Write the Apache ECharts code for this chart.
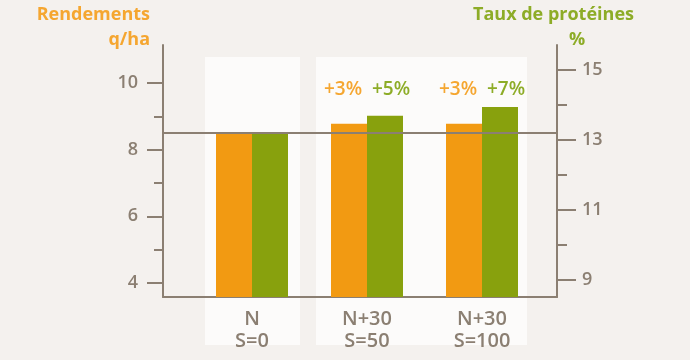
<!DOCTYPE html>
<html><head><meta charset="utf-8">
<script src="https://cdn.jsdelivr.net/npm/echarts@6/dist/echarts.min.js"></script>
<style>html,body{margin:0;padding:0;background:#f4f1ee}#c{width:690px;height:360px}</style>
</head><body><div id="c"></div>
<script>
const categories = ['N\nS=0', 'N+30\nS=50', 'N+30\nS=100'];
const yieldValues = [8.5, 8.78, 8.78];
const proteinValues = [13.17, 13.69, 13.94];
const yieldLabels = ['', '+3%', '+3%'];
const proteinLabels = ['', '+5%', '+7%'];
const referenceLine = 8.5;
const leftTicks = [4, 6, 8, 10];
const leftMinorTicks = [5, 7, 9];
const rightTicks = [9, 11, 13, 15];
const rightMinorTicks = [10, 12, 14];
const yieldLabelLevel = 9.8;
const proteinLabelLevel = 14.43;

const AX = '#8b7f72', OR = '#f29a12', GR = '#88a10d', ORT = '#f5a630', GRT = '#8dac27';
const FONT = '"Open Sans"';
const L = {min: 3.58, max: 11.14}, R = {min: 8.514, max: 15.714};

function axisY(pos, rng, ticks, len, showLine, showLabel, grid) {
  return {
    type: 'value', position: pos, gridIndex: grid, min: rng.min, max: rng.max,
    splitLine: {show: false},
    axisLine: {show: showLine, lineStyle: {color: AX, width: 2}},
    axisTick: {show: ticks !== null, customValues: ticks || [], length: len, lineStyle: {color: AX, width: 2}},
    axisLabel: {show: showLabel, customValues: ticks || [], color: AX, fontSize: 18, fontWeight: 600, fontFamily: FONT, margin: 25}
  };
}

const chart = echarts.init(document.getElementById('c'));
chart.setOption({
  backgroundColor: '#f4f1ee',
  animation: false,
  grid: [
    {left: 163, right: 133, top: 45, bottom: 63},
    {left: 194.5, right: 150.5, top: 45, bottom: 63}
  ],
  graphic: [
    {type: 'rect', z: -10, shape: {x: 205, y: 57, width: 95, height: 288}, style: {fill: '#fcfbfa'}},
    {type: 'rect', z: -10, shape: {x: 316, y: 57, width: 211, height: 288}, style: {fill: '#fcfbfa'}},
    {type: 'text', right: 540, top: 6, style: {text: 'Rendements', fill: ORT, font: 'bold 18px ' + FONT, textAlign: 'right'}},
    {type: 'text', right: 540, top: 31, style: {text: 'q/ha', fill: ORT, font: 'bold 18px ' + FONT, textAlign: 'right'}},
    {type: 'text', left: 473, top: 6, style: {text: 'Taux de protéines', fill: GRT, font: 'bold 18px ' + FONT}},
    {type: 'text', left: 569, top: 31, style: {text: '%', fill: GRT, font: 'bold 18px ' + FONT}}
  ],
  xAxis: [
    {type: 'category', gridIndex: 0, data: ['', '', ''],
     axisLine: {lineStyle: {color: AX, width: 2}}, axisTick: {show: false}, axisLabel: {show: false}},
    {type: 'category', gridIndex: 1, data: categories,
     axisLine: {show: false}, axisTick: {show: false},
     axisLabel: {color: AX, fontSize: 20, fontWeight: 600, fontFamily: FONT, lineHeight: 22, margin: 11}}
  ],
  yAxis: [
    axisY('left', L, leftTicks, 16, true, true, 0),
    axisY('right', R, rightTicks, 19, true, true, 0),
    axisY('left', L, leftMinorTicks, 9, false, false, 0),
    axisY('right', R, rightMinorTicks, 10, false, false, 0),
    axisY('left', L, null, 0, false, false, 1),
    axisY('right', R, null, 0, false, false, 1)
  ],
  series: [
    {type: 'bar', xAxisIndex: 1, yAxisIndex: 4, data: yieldValues, barWidth: 36, barGap: '0%', z: 2,
     itemStyle: {color: OR},
     markPoint: {symbol: 'circle', symbolSize: 0,
       label: {show: true, position: 'inside', offset: [-6, 0], formatter: '{b}', color: ORT, fontSize: 19, fontWeight: 600, fontFamily: FONT},
       data: yieldLabels.map((t, i) => ({name: t, coord: [i, yieldLabelLevel]})).filter(d => d.name)}},
    {type: 'bar', xAxisIndex: 1, yAxisIndex: 5, data: proteinValues, barWidth: 36, barGap: '0%', z: 2,
     itemStyle: {color: GR},
     markPoint: {symbol: 'circle', symbolSize: 0,
       label: {show: true, position: 'inside', offset: [6, 0], formatter: '{b}', color: GRT, fontSize: 19, fontWeight: 600, fontFamily: FONT},
       data: proteinLabels.map((t, i) => ({name: t, coord: [i, proteinLabelLevel]})).filter(d => d.name)}},
    {type: 'line', xAxisIndex: 0, yAxisIndex: 0, data: [], z: 5,
     markLine: {symbol: ['none', 'none'], silent: true, label: {show: false},
       lineStyle: {color: AX, width: 2, type: 'solid'}, data: [{yAxis: referenceLine}]}}
  ]
});
</script></body></html>
